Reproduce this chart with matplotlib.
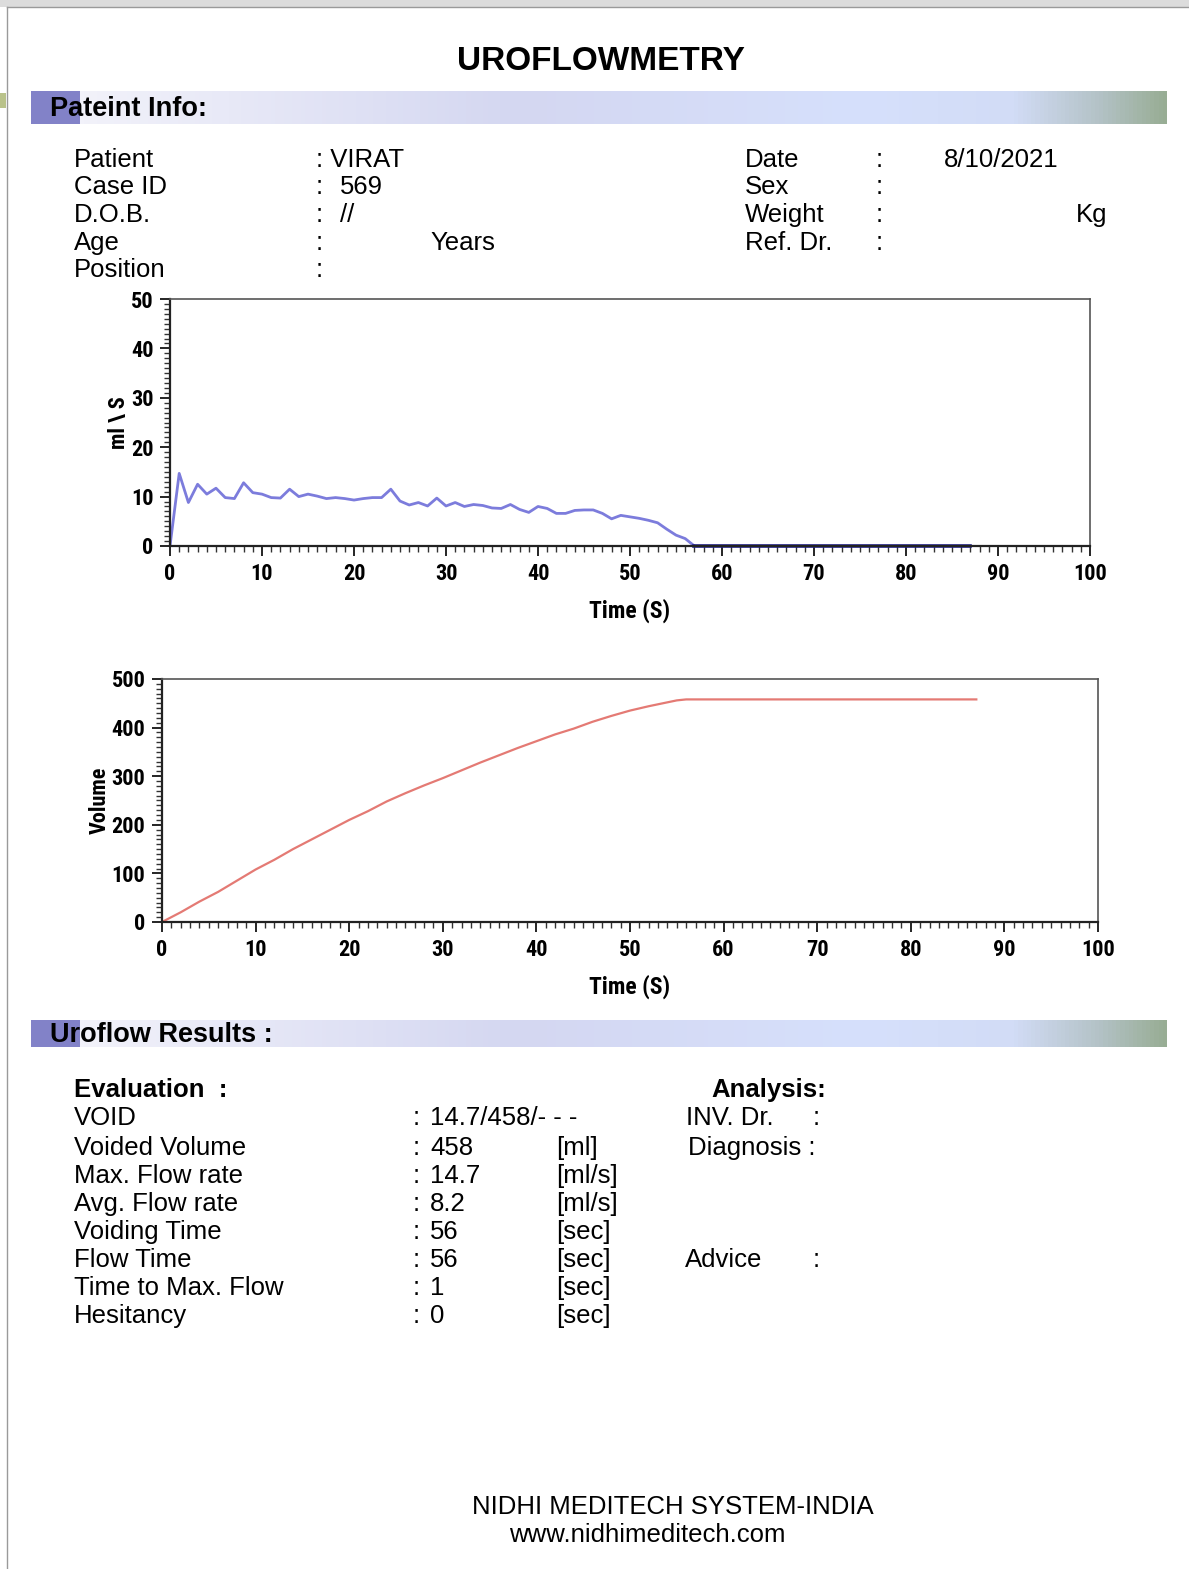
import matplotlib
matplotlib.use("Agg")
import matplotlib.pyplot as plt
import numpy as np
from matplotlib import font_manager
from matplotlib.colors import LinearSegmentedColormap
from matplotlib.patches import Rectangle
from matplotlib.ticker import MultipleLocator

# flow curve (ml/s), one reading per second
flow_time = [0, 1, 2, 3, 4, 5, 6, 7, 8, 9, 10, 11, 12, 13, 14, 15, 16, 17, 18, 19,
             20, 21, 22, 23, 24, 25, 26, 27, 28, 29, 30, 31, 32, 33, 34, 35, 36, 37, 38, 39,
             40, 41, 42, 43, 44, 45, 46, 47, 48, 49, 50, 51, 52, 53, 54, 55, 56, 57]
flow_rate = [0, 14.7, 8.8, 12.5, 10.5, 11.7, 9.8, 9.6, 12.8, 10.8, 10.5, 9.8, 9.7, 11.5,
             10.0, 10.5, 10.1, 9.6, 9.8, 9.6, 9.3, 9.6, 9.8, 9.8, 11.5, 9.1, 8.3, 8.8,
             8.1, 9.7, 8.1, 8.8, 8.0, 8.4, 8.2, 7.7, 7.6, 8.4, 7.4, 6.8, 8.0, 7.6, 6.6,
             6.6, 7.2, 7.3, 7.3, 6.6, 5.5, 6.2, 5.9, 5.6, 5.2, 4.7, 3.4, 2.2, 1.5, 0.0]
tail_time = [57, 87]
tail_rate = [0, 0]

# voided volume (ml)
vol_time = [0, 2, 4, 6, 8, 10, 12, 14, 16, 18, 20, 22, 24, 26, 28, 30, 32, 34, 36, 38,
            40, 42, 44, 46, 48, 50, 52, 54, 55, 56, 87]
vol_ml = [0, 20, 42, 62, 85, 108, 128, 150, 170, 190, 210, 228, 248, 265, 281, 296, 312,
          328, 343, 358, 372, 386, 398, 412, 424, 435, 444, 452, 456, 458, 458]

info_left = [("Patient", ": VIRAT", None), ("Case ID", ":", "569"), ("D.O.B.", ":", "//"),
             ("Age", ":", None), ("Position", ":", None)]
info_right = ["Date", "Sex", "Weight", "Ref. Dr."]
results = [("VOID", "14.7/458/- - -", ""), ("Voided Volume", "458", "[ml]"),
           ("Max. Flow rate", "14.7", "[ml/s]"), ("Avg. Flow rate", "8.2", "[ml/s]"),
           ("Voiding Time", "56", "[sec]"), ("Flow Time", "56", "[sec]"),
           ("Time to Max. Flow", "1", "[sec]"), ("Hesitancy", "0", "[sec]")]

W, H = 1189, 1569
fig = plt.figure(figsize=(W / 100, H / 100), dpi=100)
bg = fig.add_axes([0, 0, 1, 1])
bg.set_xlim(0, W)
bg.set_ylim(H, 0)
bg.axis("off")

body = ["Liberation Sans", "DejaVu Sans"]
# the chart labels use a condensed bold face; take one that has a bold weight
bold_cond = set()
for f in font_manager.fontManager.ttflist:
    if ("Narrow" in f.name or "Condensed" in f.name) and \
            (f.weight in ("bold", 700) or (isinstance(f.weight, int) and f.weight >= 700)):
        bold_cond.add(f.name)
pref = [n for n in ["Liberation Sans Narrow", "Roboto Condensed", "Open Sans Condensed",
                    "DejaVu Sans Condensed", "Noto Sans Condensed"] if n in bold_cond]
pref += sorted(bold_cond - set(pref))
if pref:
    narrow = [pref[0], "Liberation Sans", "DejaVu Sans"]
    tick_fs = 16
else:
    narrow = ["Liberation Sans", "DejaVu Sans"]
    tick_fs = 14

# page edges
bg.add_patch(Rectangle((0, 0), W, 7, color="#dcdcdc", lw=0))
bg.plot([7, W], [7, 7], color="#9a9a9a", lw=1)
bg.plot([7, 7], [7, H], color="#9a9a9a", lw=1)
bg.add_patch(Rectangle((0, 93), 6, 15, color="#b9c28a", lw=0))

grad = LinearSegmentedColormap.from_list("bar", [(0, "#f2f2fa"), (0.4, "#d4d7f1"),
                                                 (0.72, "#d6e0fc"), (0.86, "#d2dcf6"),
                                                 (0.94, "#b3c2c6"), (1, "#98ad94")])
for y0, y1, label in [(91, 124, "Pateint Info:"), (1020, 1047, "Uroflow Results :")]:
    bg.imshow(np.linspace(0, 1, 256)[None, :], cmap=grad, extent=[80, 1167, y1, y0],
              aspect="auto", zorder=1)
    bg.add_patch(Rectangle((31, y0), 49, y1 - y0, color="#8282c8", lw=0, zorder=2))
    bg.text(50, (y0 + y1) / 2 + 2, label, fontsize=19.5, fontweight="bold", family=body,
            va="center", zorder=3)
bg.set_xlim(0, W)
bg.set_ylim(H, 0)

bg.text(601, 62, "UROFLOWMETRY", fontsize=24, fontweight="bold", family=body,
        ha="center", va="center")

fs = 18.5
rows = [160, 187, 215, 243, 270]
for (lab, colon, val), y in zip(info_left, rows):
    bg.text(74, y, lab, fontsize=fs, family=body, va="center")
    bg.text(316, y, colon, fontsize=fs, family=body, va="center")
    if val:
        bg.text(340, y, val, fontsize=fs, family=body, va="center")
bg.text(430, 243, "Years", fontsize=fs, family=body, va="center")
for lab, y in zip(info_right, rows):
    bg.text(745, y, lab, fontsize=fs, family=body, va="center")
    bg.text(876, y, ":", fontsize=fs, family=body, va="center")
bg.text(944, 160, "8/10/2021", fontsize=fs, family=body, va="center")
bg.text(1076, 215, "Kg", fontsize=fs, family=body, va="center")

bg.text(74, 1090, "Evaluation  :", fontsize=fs, fontweight="bold", family=body, va="center")
bg.text(711, 1090, "Analysis:", fontsize=fs, fontweight="bold", family=body, va="center")
res_rows = [1118, 1148, 1176, 1204, 1232, 1260, 1288, 1316]
for (lab, val, unit), y in zip(results, res_rows):
    bg.text(74, y, lab, fontsize=fs, family=body, va="center")
    bg.text(413, y, ":", fontsize=fs, family=body, va="center")
    bg.text(430, y, val, fontsize=fs, family=body, va="center")
    bg.text(556, y, unit, fontsize=fs, family=body, va="center")
bg.text(686, 1118, "INV. Dr.", fontsize=fs, family=body, va="center")
bg.text(813, 1118, ":", fontsize=fs, family=body, va="center")
bg.text(688, 1148, "Diagnosis :", fontsize=fs, family=body, va="center")
bg.text(685, 1260, "Advice", fontsize=fs, family=body, va="center")
bg.text(813, 1260, ":", fontsize=fs, family=body, va="center")

bg.text(673, 1507, "NIDHI MEDITECH SYSTEM-INDIA", fontsize=fs, family=body,
        ha="center", va="center")
bg.text(647, 1535, "www.nidhimeditech.com", fontsize=fs, family=body,
        ha="center", va="center")


def chart(left, right, top, bottom, ymax, ymajor, yminor, ylabel, ylab_x):
    ax = fig.add_axes([left / W, 1 - bottom / H, (right - left) / W, (bottom - top) / H])
    ax.set_xlim(0, 100)
    ax.set_ylim(0, ymax)
    ax.xaxis.set_major_locator(MultipleLocator(10))
    ax.xaxis.set_minor_locator(MultipleLocator(1))
    ax.yaxis.set_major_locator(MultipleLocator(ymajor))
    ax.yaxis.set_minor_locator(MultipleLocator(yminor))
    ax.tick_params(which="major", direction="out", length=7, width=1.2, pad=5)
    ax.tick_params(which="minor", direction="out", length=4, width=1, color="#333333")
    for lab in ax.get_xticklabels() + ax.get_yticklabels():
        lab.set_fontfamily(narrow)
        lab.set_fontweight("bold")
        lab.set_fontsize(tick_fs)
    for side in ["left", "bottom"]:
        ax.spines[side].set_linewidth(1.6)
        ax.spines[side].set_color("#222222")
    for side in ["top", "right"]:
        ax.spines[side].set_linewidth(1.2)
        ax.spines[side].set_color("#555555")
    ax.set_xlabel("Time (S)", fontsize=tick_fs + 1, fontweight="bold", family=narrow,
                  labelpad=10)
    fig.text(ylab_x / W, 1 - (top + bottom) / 2 / H, ylabel, rotation=90,
             fontsize=tick_fs, fontweight="bold", family=narrow, ha="center", va="center")
    return ax


ax1 = chart(170, 1090, 299, 546, 50, 10, 1, "ml \\ S", 119)
ax1.plot(flow_time, flow_rate, color="#7c7cdc", lw=2.0, solid_joinstyle="round")
ax1.plot(tail_time, tail_rate, color="#1e1e8a", lw=2.6, clip_on=False)

ax2 = chart(162, 1098, 679, 922, 500, 100, 10, "Volume", 100)
ax2.plot(vol_time, vol_ml, color="#e47a74", lw=1.6)

fig.savefig("out.png", dpi=100)
